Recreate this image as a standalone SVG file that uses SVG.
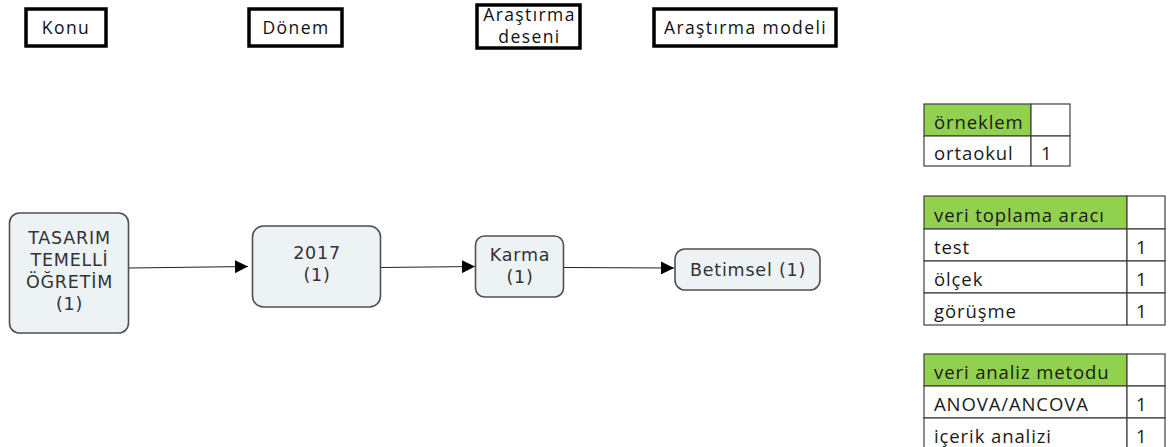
<svg xmlns="http://www.w3.org/2000/svg" width="1169" height="447" viewBox="0 0 1169 447">
<style>
.hdr{fill:#fff;stroke:#000;stroke-width:3.5}
.ht{font-family:"Open Sans",Lato,sans-serif;font-size:17.5px;letter-spacing:1.4px;fill:#111;text-anchor:middle}
.nd{fill:#edf2f5;stroke:#505050;stroke-width:1.6}
.nt{font-family:"DejaVu Sans",Verdana,sans-serif;font-size:17.5px;letter-spacing:0.8px;fill:#333;text-anchor:middle}
.cn{stroke:#222;stroke-width:1.2;fill:none}
.cell{fill:#fff;stroke:#404040;stroke-width:1.2}
.gh{fill:#92d050;stroke:#404040;stroke-width:1.2}
.tt{font-family:"Open Sans",Lato,sans-serif;font-size:18.5px;letter-spacing:0.9px;fill:#1a1a1a}
</style>
<defs>
<marker id="ah" viewBox="0 0 10 10" refX="10" refY="5" markerWidth="13" markerHeight="13" markerUnits="userSpaceOnUse" orient="auto">
<path d="M0,0 L10,5 L0,10 z" fill="#000"/>
</marker>
</defs>
<rect width="1169" height="447" fill="#fff"/>

<g id="h-konu"><rect class="hdr" x="26" y="9" width="80" height="37"/><text class="ht" x="66" y="34">Konu</text></g>
<g id="h-donem"><rect class="hdr" x="249" y="9" width="93" height="37"/><text class="ht" x="296" y="34">Dönem</text></g>
<g id="h-desen"><rect class="hdr" x="477" y="5" width="103" height="43"/><text class="ht" x="529.5" y="21">Araştırma</text><text class="ht" x="529.5" y="43">deseni</text></g>
<g id="h-model"><rect class="hdr" x="654" y="9" width="182" height="37"/><text class="ht" x="745.5" y="34">Araştırma modeli</text></g>

<g id="connectors">
<line class="cn" x1="129" y1="268" x2="248" y2="266.5" marker-end="url(#ah)"/>
<line class="cn" x1="381" y1="267.5" x2="475" y2="266.5" marker-end="url(#ah)"/>
<line class="cn" x1="564" y1="267.5" x2="674" y2="268" marker-end="url(#ah)"/>
</g>

<g id="n-tasarim"><rect class="nd" x="9.5" y="213" width="119" height="120" rx="10"/>
<text class="nt" x="69.5" y="244">TASARIM</text><text class="nt" x="69.5" y="266">TEMELLİ</text><text class="nt" x="69.5" y="288">ÖĞRETİM</text><text class="nt" x="69.5" y="310">(1)</text></g>
<g id="n-2017"><rect class="nd" x="252.5" y="226" width="128" height="81" rx="11"/>
<text class="nt" x="317" y="259">2017</text><text class="nt" x="317" y="281">(1)</text></g>
<g id="n-karma"><rect class="nd" x="475.5" y="236" width="88" height="61" rx="9"/>
<text class="nt" x="520" y="261">Karma</text><text class="nt" x="520" y="283">(1)</text></g>
<g id="n-betimsel"><rect class="nd" x="675" y="249" width="145" height="41" rx="10"/>
<text class="nt" x="748" y="276">Betimsel (1)</text></g>

<g id="t-orneklem">
<rect class="gh" x="924" y="104" width="107" height="32"/><rect class="cell" x="1031" y="104" width="39" height="32"/>
<rect class="cell" x="924" y="136" width="107" height="30"/><rect class="cell" x="1031" y="136" width="39" height="30"/>
<text class="tt" x="934" y="129">örneklem</text><text class="tt" x="1041" y="160">1</text><text class="tt" x="934" y="160">ortaokul</text>
</g>
<g id="t-veritoplama">
<rect class="gh" x="924" y="196" width="203" height="33"/><rect class="cell" x="1127" y="196" width="38" height="33"/>
<rect class="cell" x="924" y="229" width="203" height="32"/><rect class="cell" x="1127" y="229" width="38" height="32"/>
<rect class="cell" x="924" y="261" width="203" height="32"/><rect class="cell" x="1127" y="261" width="38" height="32"/>
<rect class="cell" x="924" y="293" width="203" height="32"/><rect class="cell" x="1127" y="293" width="38" height="32"/>
<text class="tt" x="934" y="222">veri toplama aracı</text>
<text class="tt" x="934" y="254">test</text><text class="tt" x="1136" y="254">1</text>
<text class="tt" x="934" y="286">ölçek</text><text class="tt" x="1136" y="286">1</text>
<text class="tt" x="934" y="318">görüşme</text><text class="tt" x="1136" y="318">1</text>
</g>
<g id="t-verianaliz">
<rect class="gh" x="924" y="354" width="203" height="32"/><rect class="cell" x="1127" y="354" width="38" height="32"/>
<rect class="cell" x="924" y="386" width="203" height="32"/><rect class="cell" x="1127" y="386" width="38" height="32"/>
<rect class="cell" x="924" y="418" width="203" height="32"/><rect class="cell" x="1127" y="418" width="38" height="32"/>
<text class="tt" x="934" y="379">veri analiz metodu</text>
<text class="tt" x="934" y="411">ANOVA/ANCOVA</text><text class="tt" x="1136" y="411">1</text>
<text class="tt" x="934" y="443">içerik analizi</text><text class="tt" x="1136" y="443">1</text>
</g>
</svg>
